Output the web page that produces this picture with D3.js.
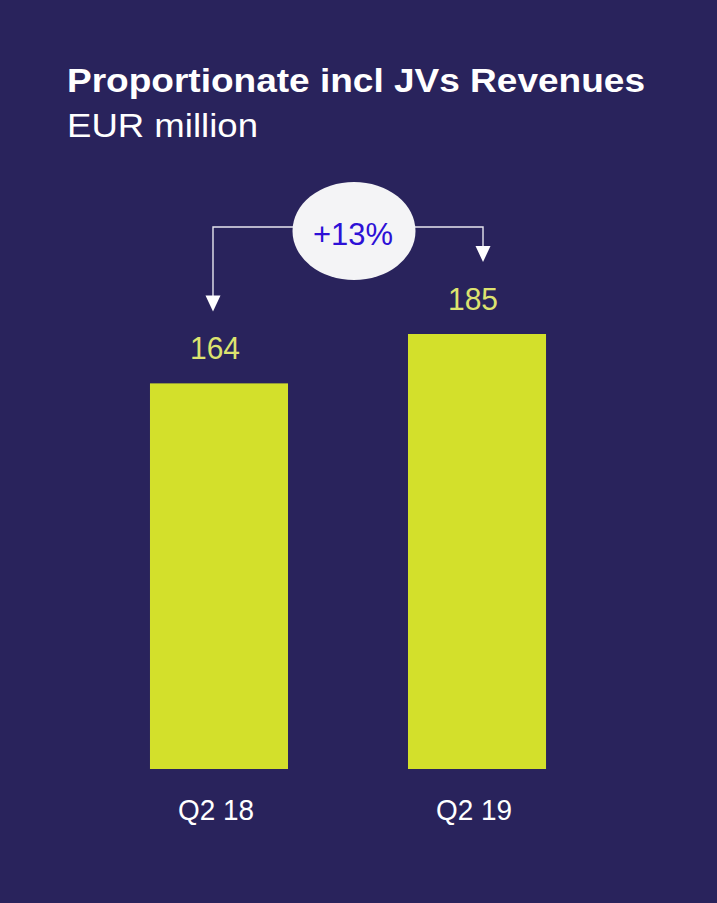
<!DOCTYPE html>
<html>
<head>
<meta charset="utf-8">
<script src="https://cdn.jsdelivr.net/npm/d3@7"></script>
<style>
  html, body { margin: 0; padding: 0; background: #29235c; }
  svg { display: block; }
  text { font-family: "Liberation Sans", Arial, sans-serif; }
</style>
</head>
<body>
<script>
// Chart data
const categories = ["Q2 18", "Q2 19"];
const revenues = [164, 185];
const changeLabel = "+13%";
const titleText = "Proportionate incl JVs Revenues";
const subtitleText = "EUR million";

const W = 717, H = 903;
const colors = {
  bg: "#29235c",
  bar: "#d3e02b",
  value: "#dde36f",
  text: "#ffffff",
  bubble: "#f4f4f6",
  pct: "#2d10d6",
  arrow: "#e6e6ee"
};

const svg = d3.select("body").append("svg")
  .attr("width", W).attr("height", H);

svg.append("rect").attr("width", W).attr("height", H).attr("fill", colors.bg);

// Title block
svg.append("text")
  .attr("x", 67).attr("y", 92)
  .attr("fill", colors.text)
  .attr("font-weight", "bold")
  .attr("font-size", 33)
  .attr("textLength", 578)
  .attr("lengthAdjust", "spacingAndGlyphs")
  .text(titleText);

svg.append("text")
  .attr("x", 67).attr("y", 137)
  .attr("fill", colors.text)
  .attr("font-size", 34)
  .attr("textLength", 191)
  .attr("lengthAdjust", "spacingAndGlyphs")
  .text(subtitleText);

// Scales
const x = d3.scaleBand()
  .domain(categories)
  .range([30, 666])
  .padding(0.465);

const baseline = 769;
const y = d3.scaleLinear()
  .domain([0, d3.max(revenues)])
  .range([baseline, 334]);

const data = categories.map((c, i) => ({ cat: c, value: revenues[i] }));

// Bars
svg.selectAll("rect.bar")
  .data(data)
  .join("rect")
  .attr("class", "bar")
  .attr("x", d => x(d.cat))
  .attr("y", d => y(d.value))
  .attr("width", x.bandwidth())
  .attr("height", d => y(0) - y(d.value))
  .attr("fill", colors.bar);

// Value labels
svg.selectAll("text.value")
  .data(data)
  .join("text")
  .attr("class", "value")
  .attr("x", d => x(d.cat) + x.bandwidth() / 2 - 4)
  .attr("y", d => y(d.value) - 24)
  .attr("text-anchor", "middle")
  .attr("fill", colors.value)
  .attr("font-size", 31)
  .attr("textLength", 50)
  .attr("lengthAdjust", "spacingAndGlyphs")
  .text(d => d.value);

// Category axis labels
const xAxis = d3.axisBottom(x).tickSize(0).tickPadding(0);
const axisG = svg.append("g")
  .attr("transform", `translate(0, ${baseline})`)
  .call(xAxis);
axisG.select(".domain").remove();
axisG.selectAll("text")
  .attr("y", 51)
  .attr("dy", 0)
  .attr("dx", -3)
  .attr("fill", colors.text)
  .attr("font-size", 29)
  .attr("font-family", "Liberation Sans, Arial, sans-serif")
  .attr("textLength", 76)
  .attr("lengthAdjust", "spacingAndGlyphs");

// Change annotation: connector arrows from the bubble down to each value
const cx0 = x(categories[0]) + x.bandwidth() / 2 - 6;
const cx1 = x(categories[1]) + x.bandwidth() / 2 + 6;
const lineY = 227;
const tipY = data.map(d => y(d.value) - 72);
const headW = 15, headH = 16;

const arrow = svg.append("g");
[0, 1].forEach(i => {
  const ax = i === 0 ? cx0 : cx1;
  arrow.append("path")
    .attr("d", `M${(cx0 + cx1) / 2},${lineY} H${ax} V${tipY[i] - headH + 1}`)
    .attr("fill", "none")
    .attr("stroke", colors.arrow)
    .attr("stroke-width", 1.4);
  arrow.append("path")
    .attr("d", `M${ax - headW / 2},${tipY[i] - headH} L${ax + headW / 2},${tipY[i] - headH} L${ax},${tipY[i]} Z`)
    .attr("fill", "#ffffff");
});

const bubbleX = (cx0 + cx1) / 2 + 6;
svg.append("ellipse")
  .attr("cx", bubbleX).attr("cy", 231)
  .attr("rx", 61.5).attr("ry", 49)
  .attr("fill", colors.bubble);

svg.append("text")
  .attr("x", bubbleX - 1).attr("y", 245)
  .attr("text-anchor", "middle")
  .attr("fill", colors.pct)
  .attr("font-size", 32)
  .attr("textLength", 80)
  .attr("lengthAdjust", "spacingAndGlyphs")
  .text(changeLabel);
</script>
</body>
</html>
